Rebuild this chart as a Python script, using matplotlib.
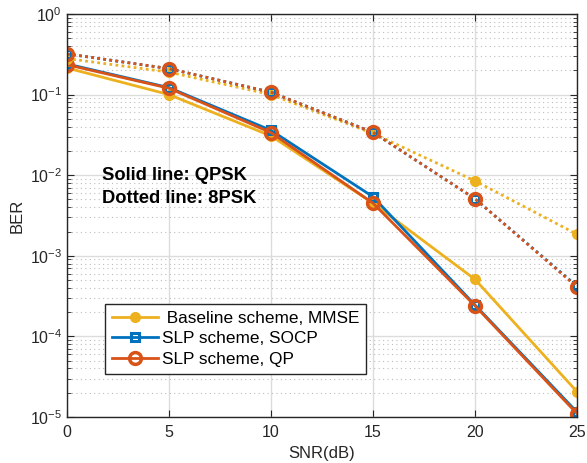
import matplotlib
matplotlib.use("Agg")
import matplotlib.pyplot as plt
from matplotlib.ticker import LogLocator, NullFormatter

plt.rcParams['font.family'] = ['Liberation Sans', 'DejaVu Sans']
plt.rcParams['mathtext.fontset'] = 'custom'
plt.rcParams['mathtext.rm'] = 'Liberation Sans'

snr = [0, 5, 10, 15, 20, 25]

# QPSK (solid)
qpsk_mmse = [0.214, 0.100, 0.0307, 4.5e-3, 5.1e-4, 2.06e-5]
qpsk_socp = [0.240, 0.122, 0.0360, 5.4e-3, 2.45e-4, 1.15e-5]
qpsk_qp = [0.235, 0.120, 0.0337, 4.5e-3, 2.4e-4, 1.1e-5]

# 8PSK (dotted)
psk8_mmse = [0.28, 0.19, 0.100, 0.033, 8.5e-3, 1.85e-3]
psk8_socp = [0.32, 0.21, 0.107, 0.034, 5.1e-3, 4.2e-4]
psk8_qp = [0.32, 0.21, 0.107, 0.034, 5.1e-3, 4.1e-4]

labels = ['Baseline scheme, MMSE', 'SLP scheme, SOCP', 'SLP scheme, QP']
xticks = [0, 5, 10, 15, 20, 25]

c_y = '#EDB120'
c_b = '#0072BD'
c_o = '#D95319'
axc = '#262626'

fig = plt.figure(figsize=(5.87, 4.63), dpi=100)
ax = fig.add_axes([67/587, 1-417/463, (577-67)/587, (417-14)/463])

lw = 2.0
dot = (0, (1, 1.2))

l1, = ax.semilogy(snr, qpsk_mmse, '-', color=c_y, lw=lw, marker='o', ms=7,
                  mfc=c_y, mec=c_y, label=' ' + labels[0])
l2, = ax.semilogy(snr, qpsk_socp, '-', color=c_b, lw=lw, marker='s', ms=6,
                  mfc='none', mec=c_b, mew=2.2, label=labels[1])
l3, = ax.semilogy(snr, qpsk_qp, '-', color=c_o, lw=lw, marker='o', ms=8.5,
                  mfc='none', mec=c_o, mew=2.5, label=labels[2])

ax.semilogy(snr, psk8_mmse, linestyle=dot, color=c_y, lw=lw, marker='o', ms=7,
            mfc=c_y, mec=c_y)
ax.semilogy(snr, psk8_socp, linestyle=dot, color=c_b, lw=lw, marker='s', ms=6,
            mfc='none', mec=c_b, mew=2.2)
ax.semilogy(snr, psk8_qp, linestyle=dot, color=c_o, lw=lw, marker='o', ms=8.5,
            mfc='none', mec=c_o, mew=2.5)

ax.set_xlim(0, 25)
ax.set_ylim(1e-5, 1)
ax.set_xticks(xticks)
ax.set_xticklabels([str(v) for v in xticks])
ax.yaxis.set_major_locator(LogLocator(base=10, numticks=10))
ax.yaxis.set_minor_locator(LogLocator(base=10, subs=range(2, 10), numticks=100))
ax.yaxis.set_minor_formatter(NullFormatter())

ax.grid(True, which='major', color='#dcdcdc', lw=1.0, ls='-')
ax.grid(True, which='minor', axis='y', color='#bdbdbd', lw=0.8, ls=(0, (1, 3)))
ax.set_axisbelow(True)

for s in ax.spines.values():
    s.set_color(axc)
    s.set_linewidth(1.0)
ax.tick_params(which='both', direction='in', top=True, right=True, colors=axc,
               labelsize=11.5)
ax.tick_params(which='major', length=5)
ax.tick_params(which='minor', length=3)
ax.tick_params(axis='x', which='minor', top=False, bottom=False)
ax.tick_params(axis='x', which='major', pad=6)

ax.set_xlabel('SNR(dB)', fontsize=12, color=axc, labelpad=4)
ax.set_ylabel('BER', fontsize=12, color=axc, labelpad=4)

fig.text(102/587, 1-180/463, 'Solid line: QPSK', fontsize=13.2,
         fontweight='bold', color='black')
fig.text(102/587, 1-203/463, 'Dotted line: 8PSK', fontsize=13.2,
         fontweight='bold', color='black')

leg = ax.legend(handles=[l1, l2, l3], loc='lower left',
                bbox_to_anchor=((105-67)/510, (417-374)/403), fontsize=12.4,
                frameon=True, fancybox=False, edgecolor=axc, framealpha=1,
                handlelength=2.65, borderpad=0.4, labelspacing=0.33,
                handletextpad=0.25, borderaxespad=0)
leg.get_frame().set_linewidth(1.0)

fig.savefig('out.png', dpi=100)
